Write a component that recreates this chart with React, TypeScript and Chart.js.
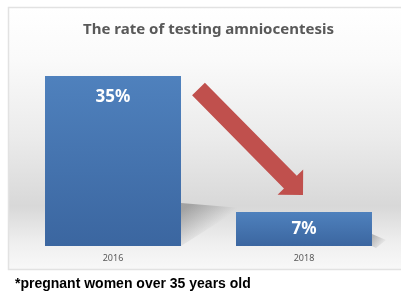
import React, { useEffect, useRef } from "react";
import { Chart, registerables } from "chart.js";

Chart.register(...registerables);

const categories = ["2016", "2018"];
const rates = [35, 7];
const valueLabels = ["35%", "7%"];
const chartTitle = "The rate of testing amniocentesis";
const footnote = "*pregnant women over 35 years old";

const W = 401;
const H = 294;

const panelPlugin = {
  id: "panel",
  beforeDraw(chart: any) {
    const { ctx, chartArea } = chart;
    ctx.save();
    ctx.fillStyle = "#ffffff";
    ctx.fillRect(0, 0, W, H);
    const top = 7;
    const bottom = 269;
    const g = ctx.createLinearGradient(0, top, 0, bottom);
    g.addColorStop(0, "#ffffff");
    g.addColorStop(0.2, "#fafafa");
    g.addColorStop(0.5, "#ebebeb");
    g.addColorStop(0.76, "#d8d8d8");
    g.addColorStop(0.9, "#efefef");
    g.addColorStop(1, "#f8f8f8");
    ctx.fillStyle = g;
    ctx.fillRect(8, top, W, bottom - top);
    ctx.strokeStyle = "#e2e2e2";
    ctx.lineWidth = 1.5;
    ctx.strokeRect(8.5, top + 0.5, W + 10, bottom - top);
    // title
    ctx.fillStyle = "#595959";
    ctx.font = "bold 15px 'Noto Sans'";
    ctx.textAlign = "center";
    ctx.textBaseline = "middle";
    ctx.fillText(chartTitle, (chartArea.left + chartArea.right) / 2, 30);
    ctx.restore();
  },
  beforeDatasetsDraw(chart: any) {
    const { ctx } = chart;
    const bars = chart.getDatasetMeta(0).data;
    if (bars.length < 2) return;
    const b1 = bars[0].getProps(["x", "y", "base", "width"], true);
    const b2 = bars[1].getProps(["x", "y", "base", "width"], true);
    const r1 = b1.x + b1.width / 2;
    const l2 = b2.x - b2.width / 2;
    const r2 = b2.x + b2.width / 2;
    const base = b1.base;
    ctx.save();
    // shadow behind first bar
    let g = ctx.createLinearGradient(r1 + 4, base - 38, r1 + 26, base - 12);
    g.addColorStop(0, "rgba(60,60,60,0.35)");
    g.addColorStop(1, "rgba(60,60,60,0)");
    ctx.fillStyle = g;
    ctx.beginPath();
    ctx.moveTo(r1, base - 43);
    ctx.lineTo(l2 + 5, base - 38);
    ctx.lineTo(r1, base);
    ctx.closePath();
    ctx.fill();
    // shadow behind second bar
    g = ctx.createLinearGradient(r2, base - 8, r2 + 12, base);
    g.addColorStop(0, "rgba(60,60,60,0.3)");
    g.addColorStop(1, "rgba(60,60,60,0)");
    ctx.fillStyle = g;
    ctx.beginPath();
    ctx.moveTo(r2, base - 12);
    ctx.lineTo(r2 + 14, base - 6);
    ctx.lineTo(r2 + 4, base + 2);
    ctx.lineTo(r2, base);
    ctx.closePath();
    ctx.fill();
    ctx.restore();
  },
  afterDatasetsDraw(chart: any) {
    const { ctx } = chart;
    const bars = chart.getDatasetMeta(0).data;
    ctx.save();
    ctx.fillStyle = "#ffffff";
    ctx.font = "bold 17px 'Noto Sans'";
    ctx.textAlign = "center";
    ctx.textBaseline = "middle";
    bars.forEach((bar: any, i: number) => {
      const p = bar.getProps(["x", "y", "base"], true);
      const y = Math.min(p.y + 21, (p.y + p.base) / 2);
      ctx.fillText(valueLabels[i], p.x, y);
    });
    // arrow from first bar to second
    if (bars.length >= 2) {
      const b1 = bars[0].getProps(["x", "y", "width"], true);
      const b2 = bars[1].getProps(["x", "y", "width"], true);
      const T = { x: b1.x + b1.width / 2 + 17.5, y: b1.y + 13 };
      const P = { x: b2.x - 1, y: b2.y - 17 };
      const dx = P.x - T.x;
      const dy = P.y - T.y;
      const len = Math.hypot(dx, dy);
      const d = { x: dx / len, y: dy / len };
      const n = { x: d.y, y: -d.x };
      const w = 9;
      const hw = 18;
      const hl = 18;
      const B = { x: P.x - d.x * hl, y: P.y - d.y * hl };
      ctx.fillStyle = "#c0504d";
      ctx.beginPath();
      ctx.moveTo(T.x + n.x * w, T.y + n.y * w);
      ctx.lineTo(B.x + n.x * w, B.y + n.y * w);
      ctx.lineTo(B.x + n.x * hw, B.y + n.y * hw);
      ctx.lineTo(P.x, P.y);
      ctx.lineTo(B.x - n.x * hw, B.y - n.y * hw);
      ctx.lineTo(B.x - n.x * w, B.y - n.y * w);
      ctx.lineTo(T.x - n.x * w, T.y - n.y * w);
      ctx.closePath();
      ctx.fill();
    }
    ctx.restore();
  },
  afterDraw(chart: any) {
    const { ctx } = chart;
    ctx.save();
    ctx.fillStyle = "#000000";
    ctx.font = "bold 14px 'Liberation Sans'";
    ctx.textAlign = "left";
    ctx.textBaseline = "middle";
    ctx.fillText(footnote, 15, 284);
    ctx.restore();
  },
};

function barFill(context: any) {
  const chart = context.chart;
  const yScale = chart.scales?.y;
  if (!yScale || context.dataIndex === undefined || !chart.chartArea) return "#4677b4";
  const top = yScale.getPixelForValue(rates[context.dataIndex]);
  const bottom = yScale.getPixelForValue(0);
  const g = chart.ctx.createLinearGradient(0, top, 0, bottom);
  g.addColorStop(0, "#4f81bd");
  g.addColorStop(1, "#3b66a0");
  return g;
}

export default function App() {
  const ref = useRef<HTMLCanvasElement>(null);
  useEffect(() => {
    if (!ref.current) return;
    const chart = new Chart(ref.current, {
      type: "bar",
      data: {
        labels: categories,
        datasets: [
          {
            data: rates,
            backgroundColor: barFill,
            borderWidth: 0,
            categoryPercentage: 1,
            barPercentage: 0.712,
          },
        ],
      },
      options: {
        responsive: false,
        animation: false,
        devicePixelRatio: 1,
        layout: { padding: { top: 76, left: 17.5, right: 1.5, bottom: 0 } },
        plugins: {
          legend: { display: false },
          tooltip: { enabled: false },
          title: { display: false },
        },
        scales: {
          x: {
            grid: { display: false, drawTicks: false, tickLength: 0 },
            border: { display: false },
            ticks: {
              color: "#595959",
              font: { family: "'Noto Sans'", size: 9 },
              padding: 7,
            },
            afterFit: (scale: any) => {
              scale.height = 48;
            },
          },
          y: {
            display: false,
            min: 0,
            max: 35,
          },
        },
      },
      plugins: [panelPlugin],
    });
    return () => chart.destroy();
  }, []);
  return (
    <div style={{ position: "fixed", left: 0, top: 0, width: W, height: H }}>
      <canvas ref={ref} width={W} height={H} style={{ display: "block" }} />
    </div>
  );
}
